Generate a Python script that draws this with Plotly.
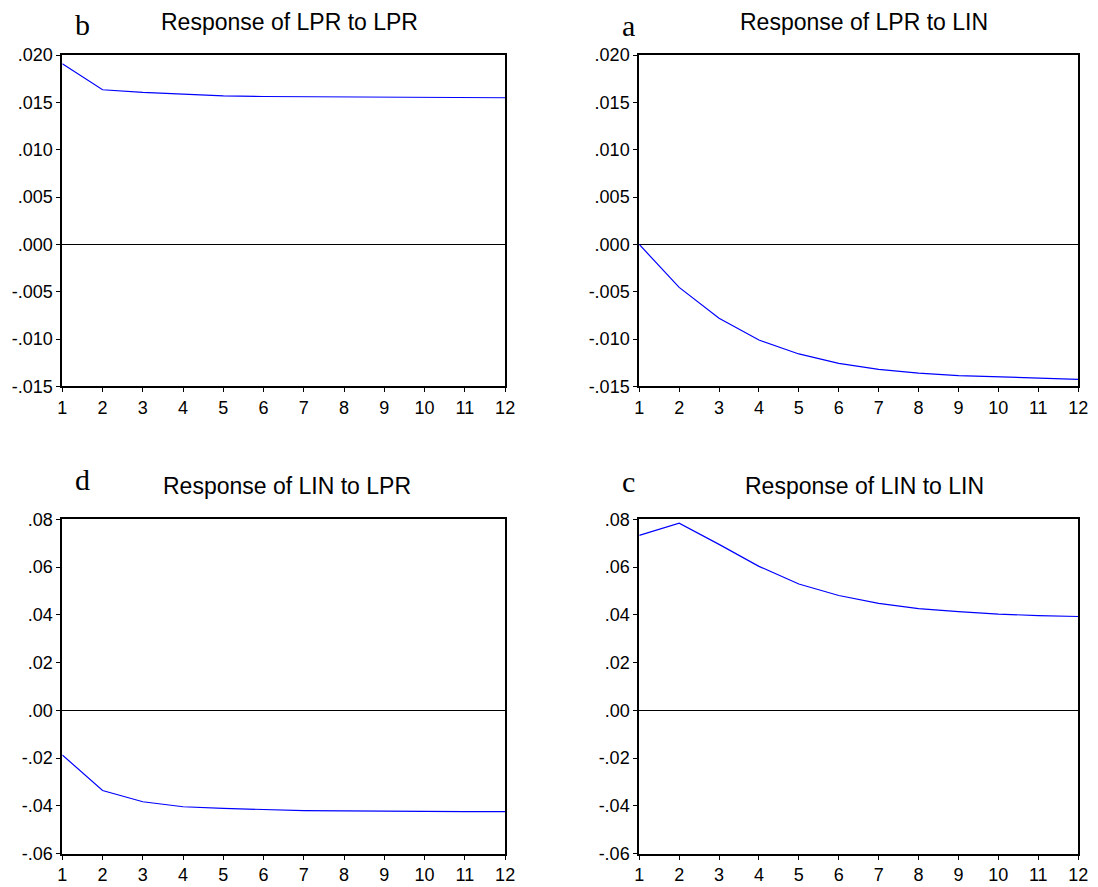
import plotly.graph_objects as go
from plotly.subplots import make_subplots

periods = list(range(1, 13))

lpr_to_lpr = [0.0191, 0.01634, 0.01606, 0.01585, 0.0157, 0.01563, 0.0156, 0.01556, 0.01553, 0.01552, 0.01551, 0.0155]
lpr_to_lin = [0.0, -0.00454, -0.0078, -0.0101, -0.01157, -0.01257, -0.0132, -0.0136, -0.01386, -0.0140, -0.01414, -0.01425]
lin_to_lpr = [-0.0187, -0.0336, -0.0383, -0.0404, -0.0411, -0.0417, -0.0420, -0.0421, -0.0423, -0.0424, -0.0424, -0.0424]
lin_to_lin = [0.0733, 0.0784, 0.0695, 0.0603, 0.0529, 0.0481, 0.0448, 0.0426, 0.0413, 0.0403, 0.0397, 0.0393]

titles = ["Response of LPR to LPR", "Response of LPR to LIN", "Response of LIN to LPR", "Response of LIN to LIN"]
letters = ["b", "a", "d", "c"]

top_tickvals = [-0.015, -0.010, -0.005, 0.0, 0.005, 0.010, 0.015, 0.020]
top_ticktext = ["-.015", "-.010", "-.005", ".000", ".005", ".010", ".015", ".020"]
bot_tickvals = [-0.06, -0.04, -0.02, 0.0, 0.02, 0.04, 0.06, 0.08]
bot_ticktext = ["-.06", "-.04", "-.02", ".00", ".02", ".04", ".06", ".08"]

OFF = 8
W, H = 1098 - OFF, 887 - OFF


def px_x(x):
    return (x - OFF) / W


def px_y(y):
    return 1 - (y - OFF) / H


fig = make_subplots(rows=2, cols=2)

series = [lpr_to_lpr, lpr_to_lin, lin_to_lpr, lin_to_lin]
cells = [(1, 1), (1, 2), (2, 1), (2, 2)]
xdom = {1: [px_x(58), px_x(507)], 2: [px_x(643), px_x(1088)]}
ydom = {1: [px_y(385), px_y(46)], 2: [px_y(863), px_y(521)]}

for i, (s, (r, c)) in enumerate(zip(series, cells)):
    fig.add_trace(go.Scatter(x=periods, y=s, mode="lines",
                             line=dict(color="#0000ff", width=1.2),
                             showlegend=False, hoverinfo="skip"), row=r, col=c)
    if r == 1:
        tv, tt, rng = top_tickvals, top_ticktext, [-0.015, 0.020]
    else:
        tv, tt, rng = bot_tickvals, bot_ticktext, [-0.06, 0.08]
    fig.update_xaxes(domain=xdom[c], range=[1, 12], tickvals=periods,
                     ticks="outside", ticklen=4, tickcolor="black",
                     showline=True, linecolor="black", linewidth=2, mirror=True,
                     showgrid=False, zeroline=False,
                     tickfont=dict(family="Liberation Sans, Arial", size=18, color="black"),
                     row=r, col=c)
    fig.update_yaxes(domain=ydom[r], range=rng, tickvals=tv, ticktext=tt,
                     ticks="outside", ticklen=4, tickcolor="black",
                     showline=True, linecolor="black", linewidth=2, mirror=True,
                     showgrid=False, zeroline=True, zerolinecolor="black", zerolinewidth=1,
                     tickfont=dict(family="Liberation Sans, Arial", size=18, color="black"),
                     row=r, col=c)

title_x = [288, 871, 286, 871]
title_y = [12, 12, 487, 487]
letter_x = [78, 632, 78, 632]
letter_y = [15, 16, 480, 482]
annotations = []
for k in range(4):
    annotations.append(dict(text=titles[k], x=px_x(title_x[k]), y=px_y(title_y[k]),
                            xref="paper", yref="paper", xanchor="center", yanchor="middle",
                            showarrow=False,
                            font=dict(family="Liberation Sans, Arial", size=23, color="black")))
    annotations.append(dict(text=letters[k], x=px_x(letter_x[k]), y=px_y(letter_y[k]),
                            xref="paper", yref="paper", xanchor="center", yanchor="middle",
                            showarrow=False,
                            font=dict(family="Liberation Serif, Times New Roman", size=30, color="black")))

fig.update_layout(width=W, height=H, margin=dict(l=0, r=0, t=0, b=0),
                  paper_bgcolor="white", plot_bgcolor="white",
                  annotations=annotations)

fig.write_html("out.html")
